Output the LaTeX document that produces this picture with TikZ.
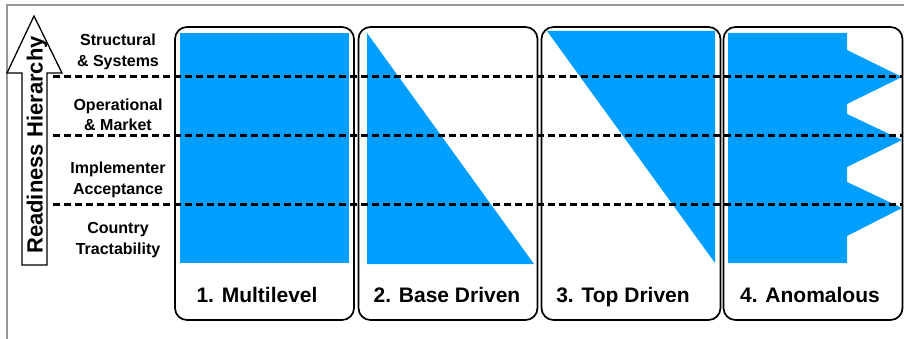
\documentclass[tikz,border=0pt]{standalone}
\usepackage{fontspec}
\setmainfont{Liberation Sans}
\definecolor{fillblue}{RGB}{0,158,255}
\definecolor{framegrey}{RGB}{150,150,150}
\begin{document}
\begin{tikzpicture}[x=1pt,y=-1pt,
  panel/.style={draw, line width=1.7pt, rounded corners=12pt,
    minimum width=179pt, minimum height=293pt, inner sep=0pt},
  paneltitle/.style={font=\fontsize{21}{25}\selectfont\bfseries, anchor=base},
  level/.style={font=\fontsize{16}{20.5}\selectfont\bfseries, align=center},
  share/.style={fill=fillblue, draw=none},
  divider/.style={line width=3pt, dash pattern=on 6.5pt off 4.5pt},
]
\useasboundingbox (0,0) rectangle (904,339);

% outer frame (top and left edges)
\draw[framegrey, line width=1.4pt] (904,5) -- (7,5) -- (7,339);

% four panels
\node[panel] (p1) at (264.5,173.5) {};
\node[panel] (p2) at (448,173.5) {};
\node[panel] (p3) at (631,173.5) {};
\node[panel] (p4) at (813,173.5) {};

% blue shares
\fill[share] (180,33) rectangle (349,263);
\fill[share] (367,33) -- (367,264) -- (534,264) -- cycle;
\fill[share] (547,31) -- (715,31) -- (715,263) -- cycle;
\fill[share] (728,33) -- (847,33) -- (847,50) -- (902,77) -- (847,104)
  -- (847,114) -- (902,140) -- (847,167) -- (847,182) -- (902,208)
  -- (847,236) -- (847,263) -- (728,263) -- cycle;

% level dividers
\draw[divider] (53,77) -- (902,77);
\draw[divider] (53,136) -- (902,136);
\draw[divider] (53,204) -- (902,204);

% readiness arrow
\draw[line width=1.3pt, fill=white, line join=miter]
  (22,265) -- (22,73) -- (7,73) -- (34,16) -- (62,73) -- (47,73) -- (47,265) -- cycle;
\node[rotate=90, anchor=base, font=\fontsize{22}{26}\selectfont\bfseries,
  inner sep=0pt] (axis) at (42.5,145) {Readiness Hierarchy};

% level labels
\node[level] (l4) at (118,52) {Structural\\\& Systems};
\node[level] (l3) at (118,115) {Operational\\\& Market};
\node[level] (l2) at (118,180) {Implementer\\Acceptance};
\node[level] (l1) at (118,240) {Country\\Tractability};

% panel titles
\node[paneltitle] (t1) at (257,302) {1. Multilevel};
\node[paneltitle] (t2) at (447,302) {2. Base Driven};
\node[paneltitle] (t3) at (623,302) {3. Top Driven};
\node[paneltitle] (t4) at (810,302) {4. Anomalous};
\end{tikzpicture}
\end{document}
